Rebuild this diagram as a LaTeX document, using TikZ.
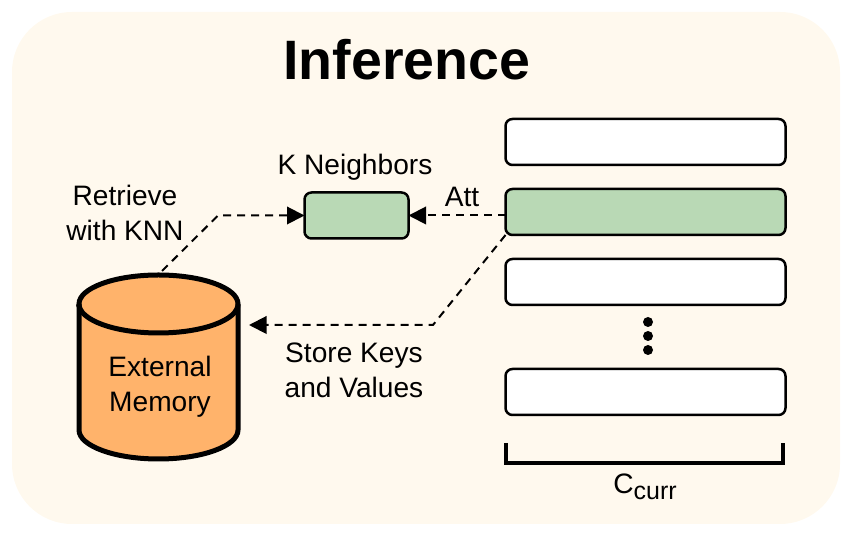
\documentclass[tikz,border=0pt]{standalone}
\usepackage{fontspec}
\setmainfont{Liberation Sans}
\usetikzlibrary{arrows.meta}
\definecolor{panelbg}{HTML}{FFF9EE}
\definecolor{keygreen}{HTML}{B9D9B5}
\definecolor{memorange}{HTML}{FFB36B}
\tikzset{
    % Define standard arrow tip
    >={Triangle[length=0.35cm,width=0.35cm]},
    % Define arrow style
    pil/.style={
           ->,
           color=black,
           line width=0.04cm,
           dash pattern=on 0.16cm off 0.12cm,}
}
\newcommand{\slotheight}{0.92cm}

\begin{document}
\begin{tikzpicture}[outer sep=0pt]
\tikzstyle{slotbox}=[draw=black, fill=white, rectangle, line width=0.05cm, rounded corners=0.14cm,
                   minimum height=\slotheight, minimum width=5.6cm]
\tikzstyle{labeltext}=[font=\fontsize{16}{20}\selectfont, align=center, inner sep=0pt]
\tikzstyle{dotnode}=[fill=black, circle, minimum size=0.2cm, inner sep=0pt]
\tikzstyle{memline}=[draw=black, line width=0.1cm]

\useasboundingbox (0,0) rectangle (17.04,10.66);
\fill[panelbg, rounded corners=1.2cm] (0.24,0.18) rectangle (16.8,10.42);

\node[font=\fontsize{31.6}{36}\selectfont\bfseries, inner sep=0pt] (title) at (8.14,9.46) {Inference};

% current slots
\node[slotbox] (slot1) at (12.91,7.82) {};
\node[slotbox, fill=keygreen] (slot2) at (12.91,6.42) {};
\node[slotbox] (slot3) at (12.91,5.02) {};
\node[slotbox] (slot4) at (12.91,2.82) {};
\node[dotnode] (dot1) at (12.96,4.22) {};
\node[dotnode] (dot2) at (12.96,3.94) {};
\node[dotnode] (dot3) at (12.96,3.66) {};

% bracket
\coordinate (brackl) at (10.12,1.8);
\coordinate (brackr) at (15.66,1.8);
\draw[line width=0.09cm] (brackl) -- (10.12,1.4) -- (15.66,1.4) -- (brackr);
\node[labeltext] (ccurr) at (12.9,0.92) {C\raisebox{-0.12cm}{\fontsize{14.2}{14}\selectfont curr}};

% neighbors
\node[slotbox, fill=keygreen, minimum width=2.08cm, minimum height=0.92cm] (knn) at (7.13,6.35) {};
\node[labeltext] (knnlabel) at (7.1,7.32) {K Neighbors};

% memory
\draw[memline, fill=memorange] (1.58,4.58) -- (1.58,2.06)
    arc[start angle=180, end angle=360, x radius=1.59cm, y radius=0.58cm] -- (4.76,4.58)
    arc[start angle=0, end angle=180, x radius=1.59cm, y radius=0.58cm] -- cycle;
\draw[memline] (1.58,4.58) arc[start angle=180, end angle=360, x radius=1.59cm, y radius=0.58cm];
\node[labeltext] (memlabel) at (3.2,2.92) {External\\Memory};

\coordinate (memtop) at (3.24,5.24);
\coordinate (retbend) at (4.36,6.35);
\coordinate (attstart) at (slot2.west |- knn.east);
\coordinate (storebend) at (8.66,4.16);
\coordinate (storeend) at (4.98,4.16);

\draw[pil] (memtop) -- (retbend) -- (knn.west);
\draw[pil] (attstart) -- (knn.east);
\draw[pil] (slot2.south west) -- (storebend) -- (storeend);

\node[labeltext] (retlabel) at (2.5,6.4) {Retrieve\\with KNN};
\node[labeltext] (attlabel) at (9.24,6.72) {Att};
\node[labeltext] (storelabel) at (7.08,3.26) {Store Keys\\and Values};

\end{tikzpicture}
\end{document}
